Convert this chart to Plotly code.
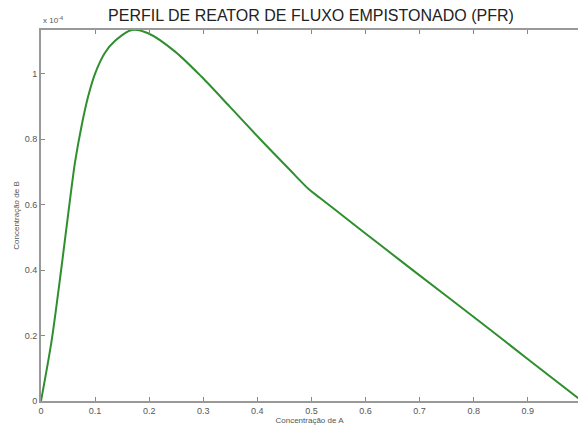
import plotly.graph_objects as go

# Concentration of A (x) and concentration of B (y, in units of 1e-4)
conc_a = [0, 0.0198, 0.038, 0.0505, 0.063, 0.075, 0.087, 0.10, 0.118, 0.137,
          0.168, 0.198, 0.248, 0.297, 0.349, 0.405, 0.460, 0.497, 0.516,
          0.571, 0.627, 0.688, 0.811, 0.904, 1.0]
conc_b = [0, 0.186, 0.41, 0.574, 0.73, 0.84, 0.929, 1.0, 1.063, 1.10,
          1.133, 1.123, 1.067, 0.99, 0.899, 0.800, 0.706, 0.644, 0.620,
          0.549, 0.477, 0.399, 0.243, 0.123, 0.0]
x_ticks = [0, 0.1, 0.2, 0.3, 0.4, 0.5, 0.6, 0.7, 0.8, 0.9]
y_ticks = [0, 0.2, 0.4, 0.6, 0.8, 1]

fig = go.Figure()
fig.add_trace(go.Scatter(x=conc_a, y=conc_b, mode="lines",
                         line=dict(color="#2f8f2f", width=2, shape="spline", smoothing=0.8),
                         showlegend=False, hoverinfo="skip"))

axis_font = dict(family="Liberation Sans, Arial, sans-serif", size=9, color="#555555")
fig.update_layout(
    width=578, height=426,
    margin=dict(l=41, r=0, t=30, b=25),
    paper_bgcolor="white", plot_bgcolor="white",
    title=dict(text="PERFIL DE REATOR DE FLUXO EMPISTONADO (PFR)",
               x=0.538, xanchor="center", y=0.965, yanchor="middle",
               font=dict(family="Liberation Sans, Arial, sans-serif", size=16, color="#222222")),
    xaxis=dict(range=[0, 0.993], tickvals=x_ticks, ticktext=[str(v) for v in x_ticks],
               ticks="inside", ticklen=4, tickcolor="#888888", tickwidth=1,
               showline=True, linecolor="#999999", linewidth=2, mirror="ticks",
               showgrid=False, zeroline=False, tickfont=axis_font,
               title=dict(text="Concentração de A", standoff=2,
                          font=dict(family="Liberation Sans, Arial, sans-serif", size=8, color="#555555"))),
    yaxis=dict(range=[0, 1.133], tickvals=y_ticks, ticktext=[str(v) for v in y_ticks],
               ticks="inside", ticklen=4, tickcolor="#888888", tickwidth=1,
               showline=True, linecolor="#999999", linewidth=2,
               showgrid=False, zeroline=False, tickfont=axis_font,
               title=dict(text="Concentração de B", standoff=4,
                          font=dict(family="Liberation Sans, Arial, sans-serif", size=8, color="#555555"))),
    annotations=[dict(text="x 10<sup>-4</sup>", xref="paper", yref="paper", x=0, y=1,
                      xanchor="left", yanchor="bottom", showarrow=False, yshift=3,
                      font=dict(family="Liberation Sans, Arial, sans-serif", size=8, color="#555555"))],
)

fig.write_html("out.html")
